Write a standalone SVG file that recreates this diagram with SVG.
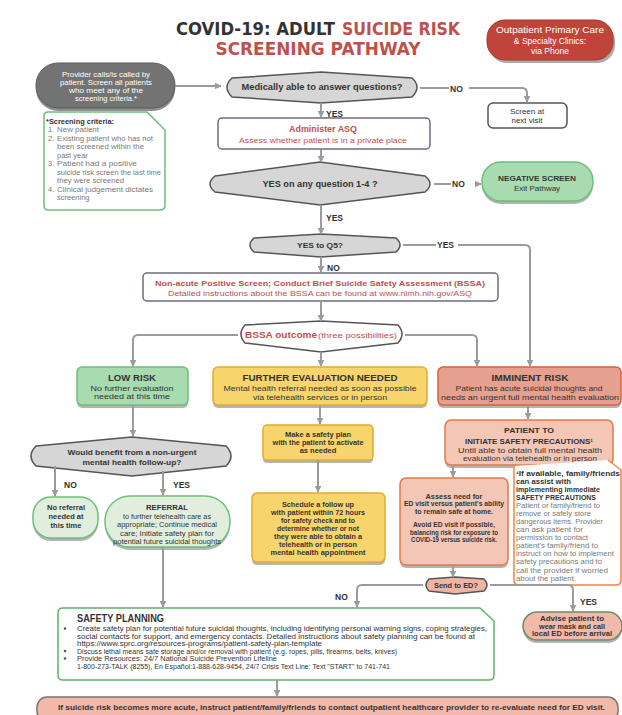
<svg xmlns="http://www.w3.org/2000/svg" width="622" height="715" viewBox="0 0 622 715">
<style>
text{font-family:"Liberation Sans",Arial,sans-serif;fill:#333}
.t{font-family:"DejaVu Sans","Liberation Sans",sans-serif;font-weight:bold;font-size:18px}
.b{font-weight:bold}
.c{text-anchor:middle}
.red{fill:#c0504d}
.w{fill:#fff}
.g{fill:#7a7a7a}
.s7{font-size:7px}
.s75{font-size:7.5px}
.s8{font-size:8px}
.s85{font-size:8.5px}
.lbl{font-size:8.5px;font-weight:bold;fill:#333}
.conn{stroke:#9b9b9b;stroke-width:2;fill:none}
.dia{fill:#d6d6d6;stroke:#555;stroke-width:1.5}
.grn{fill:#a9dbb1;stroke:#6cbf7a;stroke-width:1.5}
.pgrn{fill:#e2eedd;stroke:#6cbf7a;stroke-width:1.5}
.yel{fill:#f8d46c;stroke:#e2ab2e;stroke-width:1.5}
.sal{fill:#f3c6b6;stroke:#e07a4a;stroke-width:1.5}
.wb{fill:#fff;stroke:#6b6b80;stroke-width:1.5}
.shadow{fill:#777;opacity:.55}
</style>
<defs>
<marker id="ah" viewBox="0 0 10 10" refX="9" refY="5" markerWidth="7" markerHeight="7" markerUnits="userSpaceOnUse" orient="auto">
<path d="M0,0 L10,5 L0,10 Z" fill="#9b9b9b"/>
</marker>
</defs>
<rect width="622" height="715" fill="#fff"/>

<g id="title">
<text class="t" x="176" y="35" textLength="159" lengthAdjust="spacingAndGlyphs">COVID-19: ADULT</text>
<text class="t red" x="342" y="35" textLength="118" lengthAdjust="spacingAndGlyphs">SUICIDE RISK</text>
<text class="t red c" x="318" y="55" textLength="205" lengthAdjust="spacingAndGlyphs">SCREENING PATHWAY</text>
</g>

<g id="clinics">
<rect x="489" y="23" width="126" height="40" rx="18" fill="#555" opacity=".5"/>
<rect x="487" y="20" width="126" height="40" rx="18" fill="#c1443b" stroke="#a53830"/>
<text class="w c s85" x="550" y="33" textLength="108" lengthAdjust="spacingAndGlyphs">Outpatient Primary Care</text>
<text class="w c s85" x="550" y="43.5">&amp; Specialty Clinics:</text>
<text class="w c s85" x="550" y="54">via Phone</text>
</g>

<g id="provider">
<rect x="36" y="66" width="139" height="45" rx="22" fill="#444" opacity=".6"/>
<rect x="36" y="63" width="139" height="45" rx="22" fill="#737373" stroke="#5a5a5a"/>
<text class="w c s75" x="106" y="77" textLength="88" lengthAdjust="spacingAndGlyphs">Provider calls/is called by</text>
<text class="w c s75" x="106" y="85" textLength="92" lengthAdjust="spacingAndGlyphs">patient. Screen all patients</text>
<text class="w c s75" x="106" y="93" textLength="74" lengthAdjust="spacingAndGlyphs">who meet any of the</text>
<text class="w c s75" x="106" y="101" textLength="62" lengthAdjust="spacingAndGlyphs">screening criteria.*</text>
</g>

<g id="criteria">
<path d="M48,112 L147,112 L165,130 L165,205 Q165,210 160,210 L48,210 Q44,210 44,205 L44,116 Q44,112 48,112 Z" fill="#fff" stroke="#6cbf7a" stroke-width="1.5"/>
<text class="b s75" x="46" y="124" fill="#444" textLength="68" lengthAdjust="spacingAndGlyphs">*Screening criteria:</text>
<text class="g s75" x="48" y="132">1.</text><text class="g s75" x="57" y="132" textLength="42" lengthAdjust="spacingAndGlyphs">New patient</text>
<text class="g s75" x="48" y="140.5">2.</text><text class="g s75" x="57" y="140.5" textLength="96" lengthAdjust="spacingAndGlyphs">Existing patient who has not</text>
<text class="g s75" x="57" y="149" textLength="87" lengthAdjust="spacingAndGlyphs">been screened within the</text>
<text class="g s75" x="57" y="157.5">past year</text>
<text class="g s75" x="48" y="166">3.</text><text class="g s75" x="57" y="166" textLength="80" lengthAdjust="spacingAndGlyphs">Patient had a positive</text>
<text class="g s75" x="57" y="174.5" textLength="104" lengthAdjust="spacingAndGlyphs">suicide risk screen the last time</text>
<text class="g s75" x="57" y="183" textLength="67" lengthAdjust="spacingAndGlyphs">they were screened</text>
<text class="g s75" x="48" y="191.5">4.</text><text class="g s75" x="57" y="191.5" textLength="96" lengthAdjust="spacingAndGlyphs">Clinical judgement dictates</text>
<text class="g s75" x="57" y="200">screening</text>
</g>

<g id="q1">
<path class="dia" d="M232,78 L321,72 L412,78 Q422,87 412,97 L321,103 L232,97 Q222,87 232,78 Z"/>
<text class="b c s85" x="322" y="90" textLength="161" lengthAdjust="spacingAndGlyphs">Medically able to answer questions?</text>
</g>

<g id="nextvisit">
<rect x="488" y="103" width="79" height="25" rx="5" fill="#fff" stroke="#555" stroke-width="1.5"/>
<text class="c s8" x="527" y="113.5">Screen at</text>
<text class="c s8" x="527" y="123">next visit</text>
</g>

<g id="asq">
<rect class="wb" x="218" y="118" width="212" height="31" rx="4"/>
<text class="b c red s85" x="323" y="132" textLength="68" lengthAdjust="spacingAndGlyphs">Administer ASQ</text>
<text class="c red s75" x="323" y="143" textLength="168" lengthAdjust="spacingAndGlyphs">Assess whether patient is in a private place</text>
</g>

<g id="q2">
<path class="dia" d="M215,176 L320,162 L425,176 Q435,184 425,192 L320,205 L215,192 Q205,184 215,176 Z"/>
<text class="b c s85" x="320" y="187" textLength="115" lengthAdjust="spacingAndGlyphs">YES on any question 1-4 ?</text>
</g>

<g id="negative">
<rect x="482" y="165" width="111" height="39" rx="19" fill="#555" opacity=".45"/>
<rect class="grn" x="482" y="162" width="111" height="39" rx="19"/>
<text class="b c s8" x="537" y="181" textLength="78" lengthAdjust="spacingAndGlyphs">NEGATIVE SCREEN</text>
<text class="c s8" x="537" y="190.5">Exit Pathway</text>
</g>

<g id="q5">
<path class="dia" d="M254,238 L321,234 L396,238 Q404,245 396,252 L321,257 L254,252 Q246,245 254,238 Z"/>
<text class="b c s8" x="320" y="248" textLength="46" lengthAdjust="spacingAndGlyphs">YES to Q5?</text>
</g>

<g id="bssa">
<rect class="wb" x="143" y="273" width="355" height="28" rx="4"/>
<text class="b c red s8" x="320" y="286" textLength="330" lengthAdjust="spacingAndGlyphs">Non-acute Positive Screen; Conduct Brief Suicide Safety Assessment (BSSA)</text>
<text class="c red s75" x="320" y="296" textLength="304" lengthAdjust="spacingAndGlyphs">Detailed instructions about the BSSA can be found at www.nimh.nih.gov/ASQ</text>
</g>

<g id="outcome">
<path d="M245,325 L321,321 L398,325 Q406,334 398,343 L321,352 L245,343 Q237,334 245,325 Z" fill="#fff" stroke="#555" stroke-width="1.5"/>
<text class="b red s85" x="245" y="338" textLength="72" lengthAdjust="spacingAndGlyphs">BSSA outcome</text>
<text class="red s75" x="318" y="338" textLength="79" lengthAdjust="spacingAndGlyphs">(three possibilities)</text>
</g>

<g id="lowrisk">
<rect class="shadow" x="77" y="370" width="111" height="38" rx="5"/>
<rect class="grn" x="77" y="367" width="111" height="38" rx="5"/>
<text class="b c s85" x="132" y="381" textLength="48" lengthAdjust="spacingAndGlyphs">LOW RISK</text>
<text class="c s75" x="132" y="391" textLength="83" lengthAdjust="spacingAndGlyphs">No further evaluation</text>
<text class="c s75" x="132" y="399" textLength="76" lengthAdjust="spacingAndGlyphs">needed at this time</text>
</g>

<g id="further">
<rect class="shadow" x="213" y="370" width="214" height="38" rx="5"/>
<rect class="yel" x="213" y="367" width="214" height="38" rx="5"/>
<text class="b c s85" x="320" y="381" textLength="155" lengthAdjust="spacingAndGlyphs">FURTHER EVALUATION NEEDED</text>
<text class="c s75" x="320" y="391" textLength="193" lengthAdjust="spacingAndGlyphs">Mental health referral needed as soon as possible</text>
<text class="c s75" x="320" y="399.5" textLength="134" lengthAdjust="spacingAndGlyphs">via telehealth services or in person</text>
</g>

<g id="imminent">
<rect class="shadow" x="438" y="370" width="183" height="38" rx="5"/>
<rect x="438" y="367" width="183" height="38" rx="5" fill="#e6a08f" stroke="#d8623a" stroke-width="1.5"/>
<text class="b c s85" x="530" y="381" textLength="77" lengthAdjust="spacingAndGlyphs">IMMINENT RISK</text>
<text class="c s75" x="529" y="391" textLength="147" lengthAdjust="spacingAndGlyphs">Patient has acute suicidal thoughts and</text>
<text class="c s75" x="530" y="399.5" textLength="178" lengthAdjust="spacingAndGlyphs">needs an urgent full mental health evaluation</text>
</g>

<g id="benefit">
<path class="dia" d="M36,446 L132,437 L226,446 Q236,456 226,466 L132,476 L36,466 Q26,456 36,446 Z"/>
<text class="b c s75" x="132" y="455" textLength="129" lengthAdjust="spacingAndGlyphs">Would benefit from  a non-urgent</text>
<text class="b c s75" x="132" y="464.5" textLength="99" lengthAdjust="spacingAndGlyphs">mental health follow-up?</text>
</g>

<g id="noreferral">
<rect class="shadow" x="33" y="500" width="65" height="41" rx="18"/>
<rect class="pgrn" x="33" y="497" width="65" height="41" rx="18"/>
<text class="b c s75" x="66" y="510">No referral</text>
<text class="b c s75" x="66" y="519">needed at</text>
<text class="b c s75" x="66" y="527.5">this time</text>
</g>

<g id="referral">
<rect class="shadow" x="105" y="499" width="125" height="51" rx="25"/>
<rect class="pgrn" x="105" y="496" width="125" height="51" rx="25"/>
<text class="b c s8" x="167" y="509.5" textLength="42" lengthAdjust="spacingAndGlyphs">REFERRAL</text>
<text class="c s7" x="167" y="518.5" textLength="88" lengthAdjust="spacingAndGlyphs">to further telehealth care as</text>
<text class="c s7" x="167" y="527" textLength="100" lengthAdjust="spacingAndGlyphs">appropriate; Continue medical</text>
<text class="c s7" x="167" y="535.5" textLength="94" lengthAdjust="spacingAndGlyphs">care; Initiate safety plan for</text>
<text class="c s7" x="167" y="544" textLength="108" lengthAdjust="spacingAndGlyphs">potential future suicidal thoughts</text>
</g>

<g id="safetyplan">
<rect class="shadow" x="263" y="428" width="110" height="35" rx="4"/>
<rect class="yel" x="263" y="425" width="110" height="35" rx="4"/>
<text class="b c s75" x="318" y="437" textLength="66" lengthAdjust="spacingAndGlyphs">Make a safety plan</text>
<text class="b c s75" x="318" y="445" textLength="91" lengthAdjust="spacingAndGlyphs">with the patient to activate</text>
<text class="b c s75" x="318" y="453">as needed</text>
</g>

<g id="schedule">
<rect class="shadow" x="252" y="496" width="133" height="69" rx="5"/>
<rect class="yel" x="252" y="493" width="133" height="69" rx="5"/>
<text class="b c s75" x="318" y="507" textLength="72" lengthAdjust="spacingAndGlyphs">Schedule a follow up</text>
<text class="b c s75" x="318" y="515" textLength="94" lengthAdjust="spacingAndGlyphs">with patient within 72 hours</text>
<text class="b c s75" x="318" y="523" textLength="74" lengthAdjust="spacingAndGlyphs">for safety check and to</text>
<text class="b c s75" x="318" y="531" textLength="82" lengthAdjust="spacingAndGlyphs">determine whether or not</text>
<text class="b c s75" x="318" y="539" textLength="88" lengthAdjust="spacingAndGlyphs">they were able to obtain a</text>
<text class="b c s75" x="318" y="547" textLength="78" lengthAdjust="spacingAndGlyphs">telehealth or in person</text>
<text class="b c s75" x="318" y="555" textLength="95" lengthAdjust="spacingAndGlyphs">mental health appointment</text>
</g>

<g id="patientto">
<rect class="shadow" x="445" y="423" width="168" height="45" rx="6"/>
<rect class="sal" x="445" y="420" width="168" height="45" rx="6"/>
<text class="b c s8" x="529" y="433" textLength="50" lengthAdjust="spacingAndGlyphs">PATIENT TO</text>
<text class="b c s8" x="529" y="444" textLength="128" lengthAdjust="spacingAndGlyphs">INITIATE SAFETY PRECAUTIONS¹</text>
<text class="c s75" x="530" y="452.5" textLength="144" lengthAdjust="spacingAndGlyphs">Until able to obtain full mental health</text>
<text class="c s75" x="530" y="460.5" textLength="134" lengthAdjust="spacingAndGlyphs">evaluation via telehealth or in person</text>
</g>

<g id="footnote">
<path d="M514,466 L514,580 Q514,585 519,585 L616,585 Q621,585 621,580 L621,470 L608,460" fill="#fff" stroke="#e8874a" stroke-width="1.5"/>
<text class="b s7" x="516" y="475.5" textLength="104" lengthAdjust="spacingAndGlyphs">¹If available, family/friends</text>
<text class="b s7" x="516" y="483.5" textLength="55" lengthAdjust="spacingAndGlyphs">can assist with</text>
<text class="b s7" x="516" y="491.5" textLength="84" lengthAdjust="spacingAndGlyphs">implementing immediate</text>
<text class="b s7" x="516" y="499.5" textLength="80" lengthAdjust="spacingAndGlyphs">SAFETY PRECAUTIONS</text>
<text class="g s7" x="516" y="508" textLength="84" lengthAdjust="spacingAndGlyphs">Patient or family/friend to</text>
<text class="g s7" x="516" y="516" textLength="75" lengthAdjust="spacingAndGlyphs">remove or safely store</text>
<text class="g s7" x="516" y="524" textLength="87" lengthAdjust="spacingAndGlyphs">dangerous items. Provider</text>
<text class="g s7" x="516" y="532" textLength="67" lengthAdjust="spacingAndGlyphs">can ask patient for</text>
<text class="g s7" x="516" y="540" textLength="72" lengthAdjust="spacingAndGlyphs">permission to contact</text>
<text class="g s7" x="516" y="548" textLength="82" lengthAdjust="spacingAndGlyphs">patient's family/friend to</text>
<text class="g s7" x="516" y="556" textLength="98" lengthAdjust="spacingAndGlyphs">instruct on how to implement</text>
<text class="g s7" x="516" y="564" textLength="86" lengthAdjust="spacingAndGlyphs">safety precautions and to</text>
<text class="g s7" x="516" y="572.5" textLength="92" lengthAdjust="spacingAndGlyphs">call the provider if worried</text>
<text class="g s7" x="516" y="581" textLength="60" lengthAdjust="spacingAndGlyphs">about the patient.</text>
</g>

<g id="assess">
<rect class="shadow" x="400" y="481" width="108" height="87" rx="6"/>
<rect class="sal" x="400" y="478" width="108" height="87" rx="6"/>
<text class="b c s75" x="454" y="498.5" textLength="57" lengthAdjust="spacingAndGlyphs">Assess need for</text>
<text class="b c s75" x="454" y="506" textLength="100" lengthAdjust="spacingAndGlyphs">ED visit versus patient's ability</text>
<text class="b c s75" x="454" y="513.5" textLength="78" lengthAdjust="spacingAndGlyphs">to remain safe at home.</text>
<text class="b c s75" x="454" y="526.5" textLength="82" lengthAdjust="spacingAndGlyphs">Avoid ED visit if possible,</text>
<text class="b c s75" x="454" y="534.5" textLength="88" lengthAdjust="spacingAndGlyphs">balancing risk for exposure to</text>
<text class="b c s75" x="454" y="542" textLength="86" lengthAdjust="spacingAndGlyphs">COVID-19 versus suicide risk.</text>
</g>

<g id="sendED">
<path d="M429,579 L455,577 L484,579 Q490,585 484,591 L455,594 L429,591 Q423,585 429,579 Z" fill="#f0b4a4" stroke="#555" stroke-width="1.5"/>
<text class="b c s75" x="456" y="588" textLength="44" lengthAdjust="spacingAndGlyphs">Send to ED?</text>
</g>

<g id="advise">
<rect class="shadow" x="523" y="615" width="99" height="28" rx="14"/>
<rect x="523" y="612" width="99" height="28" rx="14" fill="#f0b9aa" stroke="#6a8f6a" stroke-width="1.5"/>
<text class="b c s75" x="572" y="621" textLength="64" lengthAdjust="spacingAndGlyphs">Advise patient to</text>
<text class="b c s75" x="572" y="628.5" textLength="66" lengthAdjust="spacingAndGlyphs">wear mask and call</text>
<text class="b c s75" x="572" y="636" textLength="80" lengthAdjust="spacingAndGlyphs">local ED before arrival</text>
</g>

<g id="safetyplanning">
<path d="M63,608 L480,608 L494,621 L494,675 Q494,680 489,680 L63,680 Q58,680 58,675 L58,613 Q58,608 63,608 Z" fill="#fff" stroke="#5fb468" stroke-width="1.5"/>
<text class="b" x="77" y="622" font-size="10" textLength="87" lengthAdjust="spacingAndGlyphs">SAFETY PLANNING</text>
<circle cx="65" cy="628.5" r="1.3" fill="#555"/>
<text class="s7" x="77" y="631" fill="#555" textLength="410" lengthAdjust="spacingAndGlyphs">Create safety plan for potential future suicidal thoughts, including identifying personal warning signs, coping strategies,</text>
<text class="s7" x="77" y="638.5" fill="#555" textLength="398" lengthAdjust="spacingAndGlyphs">social contacts for support, and emergency contacts. Detailed instructions about safety planning can be found at</text>
<text class="s7" x="77" y="646" fill="#555" textLength="245" lengthAdjust="spacingAndGlyphs">https://www.sprc.org/resources-programs/patient-safety-plan-template</text>
<circle cx="65" cy="651" r="1.3" fill="#555"/>
<text class="s7" x="77" y="653.5" fill="#555" textLength="320" lengthAdjust="spacingAndGlyphs">Discuss lethal means safe storage and/or removal with patient (e.g. ropes, pills, firearms, belts, knives)</text>
<circle cx="65" cy="658.5" r="1.3" fill="#555"/>
<text class="s7" x="77" y="661" fill="#555" textLength="200" lengthAdjust="spacingAndGlyphs">Provide Resources: 24/7 National Suicide Prevention Lifeline</text>
<text class="s7" x="77" y="668.5" fill="#555" textLength="313" lengthAdjust="spacingAndGlyphs">1-800-273-TALK (8255), En Español:1-888-628-9454, 24/7 Crisis Text Line: Text "START" to 741-741</text>
</g>

<g id="bottombar">
<rect x="37" y="697" width="581" height="24" rx="10" fill="#f2b8aa" stroke="#777" stroke-width="1.5"/>
<text class="b s8" x="58" y="709.5" textLength="547" lengthAdjust="spacingAndGlyphs">If suicide risk becomes more acute, instruct patient/family/friends to contact outpatient healthcare provider to re-evaluate need for ED visit.</text>
</g>

<g id="connectors">
<path class="conn" d="M175,86 L221,86" marker-end="url(#ah)"/>
<path class="conn" d="M420,88 L449,88 M469,88 L522,88 Q527,88 527,93 L527,102" marker-end="url(#ah)"/>
<path class="conn" d="M321,103 L321,117" marker-end="url(#ah)"/>
<path class="conn" d="M321,150 L321,162" marker-end="url(#ah)"/>
<path class="conn" d="M434,184 L451,184 M475,184 L481,184" marker-end="url(#ah)"/>
<path class="conn" d="M321,205 L321,234" marker-end="url(#ah)"/>
<path class="conn" d="M403,245 L436,245 M458,245 L525,245 Q530,245 530,250 L530,366" marker-end="url(#ah)"/>
<path class="conn" d="M321,257 L321,272" marker-end="url(#ah)"/>
<path class="conn" d="M321,301 L321,321" marker-end="url(#ah)"/>
<path class="conn" d="M238,335 L138,335 Q133,335 133,340 L133,366" marker-end="url(#ah)"/>
<path class="conn" d="M321,352 L321,366" marker-end="url(#ah)"/>
<path class="conn" d="M405,335 L472,335 Q477,335 477,340 L477,366" marker-end="url(#ah)"/>
<path class="conn" d="M133,405 L133,436" marker-end="url(#ah)"/>
<path class="conn" d="M55,466 L55,496" marker-end="url(#ah)"/>
<path class="conn" d="M163,471 L163,495" marker-end="url(#ah)"/>
<path class="conn" d="M163,547 L163,607" marker-end="url(#ah)"/>
<path class="conn" d="M320,405 L320,424" marker-end="url(#ah)"/>
<path class="conn" d="M318,460 L318,492" marker-end="url(#ah)"/>
<path class="conn" d="M528,405 L528,419" marker-end="url(#ah)"/>
<path class="conn" d="M453,465 L453,477" marker-end="url(#ah)"/>
<path class="conn" d="M453,565 L453,577" marker-end="url(#ah)"/>
<path class="conn" d="M423,585 L362,585 Q357,585 357,590 L357,607" marker-end="url(#ah)"/>
<path class="conn" d="M490,585 L568,585 Q573,585 573,590 L573,611" marker-end="url(#ah)"/>
<path class="conn" d="M277,680 L277,696" marker-end="url(#ah)"/>
<text class="lbl" x="450" y="91.5">NO</text>
<text class="lbl" x="326" y="116.5">YES</text>
<text class="lbl" x="452" y="187">NO</text>
<text class="lbl" x="326" y="220.5">YES</text>
<text class="lbl" x="437" y="248">YES</text>
<text class="lbl" x="327" y="271">NO</text>
<text class="lbl" x="64" y="488">NO</text>
<text class="lbl" x="173" y="488">YES</text>
<text class="lbl" x="335" y="600">NO</text>
<text class="lbl" x="580" y="605">YES</text>
</g>
</svg>
